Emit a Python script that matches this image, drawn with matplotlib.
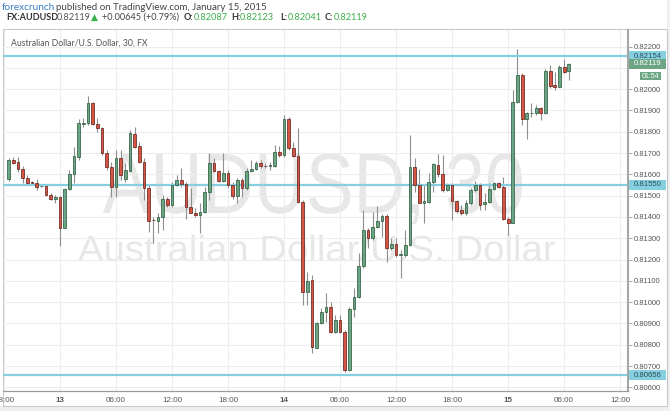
import numpy as np
import matplotlib
matplotlib.use("Agg")
import matplotlib.pyplot as plt
from matplotlib.patches import Rectangle, PathPatch
from matplotlib.textpath import TextPath
from matplotlib.font_manager import FontProperties
from matplotlib.transforms import Affine2D, blended_transform_factory, offset_copy

plt.rcParams['font.family'] = ['Liberation Sans', 'DejaVu Sans']

W, H = 670, 411

# AUDUSD 30 min bars, 18:30 Jan 12 .. 06:30 Jan 15 (2015)
bar_open = [
    0.81578, 0.81667, 0.81658, 0.81624, 0.81581, 0.81564, 0.81558, 0.81544, 0.81547, 0.81503,
    0.81483, 0.81495, 0.81350, 0.81530, 0.81600, 0.81683, 0.81838, 0.81840, 0.81934, 0.81836,
    0.81816, 0.81702, 0.81636, 0.81539, 0.81675, 0.81577, 0.81617, 0.81789, 0.81733, 0.81658,
    0.81534, 0.81386, 0.81382, 0.81398, 0.81483, 0.81455, 0.81550, 0.81573, 0.81553, 0.81445,
    0.81420, 0.81408, 0.81425, 0.81519, 0.81652, 0.81614, 0.81569, 0.81608, 0.81550, 0.81500,
    0.81572, 0.81534, 0.81616, 0.81624, 0.81652, 0.81641, 0.81638, 0.81639, 0.81704, 0.81691,
    0.81860, 0.81722, 0.81688, 0.81472, 0.81049, 0.81104, 0.80786, 0.80901, 0.80955, 0.80976,
    0.80858, 0.80915, 0.80861, 0.80681, 0.80968, 0.81026, 0.81171, 0.81339, 0.81303, 0.81351,
    0.81381, 0.81406, 0.81256, 0.81272, 0.81221, 0.81221, 0.81268, 0.81633, 0.81550, 0.81467,
    0.81472, 0.81563, 0.81642, 0.81600, 0.81526, 0.81550, 0.81473, 0.81431, 0.81417, 0.81464,
    0.81526, 0.81550, 0.81459, 0.81472, 0.81530, 0.81558, 0.81539, 0.81389, 0.81373, 0.81941,
    0.82066, 0.81858, 0.81887, 0.81887, 0.81910, 0.81889, 0.82087, 0.82019, 0.82011, 0.82102,
    0.82087,
]
bar_high = [
    0.81677, 0.81683, 0.81683, 0.81639, 0.81597, 0.81570, 0.81577, 0.81553, 0.81551, 0.81511,
    0.81503, 0.81498, 0.81537, 0.81620, 0.81730, 0.81858, 0.81863, 0.81968, 0.81941, 0.81863,
    0.81824, 0.81714, 0.81659, 0.81714, 0.81714, 0.81652, 0.81808, 0.81824, 0.81753, 0.81675,
    0.81550, 0.81401, 0.81417, 0.81503, 0.81495, 0.81565, 0.81597, 0.81628, 0.81565, 0.81534,
    0.81441, 0.81464, 0.81539, 0.81699, 0.81677, 0.81620, 0.81699, 0.81620, 0.81565, 0.81581,
    0.81581, 0.81628, 0.81667, 0.81663, 0.81667, 0.81652, 0.81659, 0.81738, 0.81734, 0.81879,
    0.81871, 0.81750, 0.81816, 0.81480, 0.81143, 0.81127, 0.80908, 0.80971, 0.81042, 0.81002,
    0.80940, 0.80940, 0.80869, 0.80979, 0.81065, 0.81229, 0.81433, 0.81347, 0.81422, 0.81453,
    0.81412, 0.81412, 0.81303, 0.81300, 0.81245, 0.81339, 0.81785, 0.81675, 0.81624, 0.81550,
    0.81605, 0.81652, 0.81696, 0.81691, 0.81558, 0.81558, 0.81480, 0.81456, 0.81480, 0.81534,
    0.81570, 0.81558, 0.81511, 0.81558, 0.81565, 0.81565, 0.81589, 0.81401, 0.81996, 0.82187,
    0.82074, 0.81894, 0.81934, 0.81926, 0.81918, 0.82093, 0.82113, 0.82082, 0.82113, 0.82140,
    0.82123,
]
bar_low = [
    0.81569, 0.81648, 0.81612, 0.81561, 0.81553, 0.81550, 0.81526, 0.81539, 0.81498, 0.81480,
    0.81464, 0.81264, 0.81347, 0.81526, 0.81558, 0.81667, 0.81824, 0.81832, 0.81832, 0.81800,
    0.81691, 0.81620, 0.81495, 0.81495, 0.81573, 0.81565, 0.81612, 0.81722, 0.81652, 0.81480,
    0.81331, 0.81276, 0.81323, 0.81339, 0.81448, 0.81448, 0.81545, 0.81542, 0.81389, 0.81417,
    0.81401, 0.81323, 0.81417, 0.81480, 0.81611, 0.81563, 0.81563, 0.81537, 0.81484, 0.81464,
    0.81495, 0.81526, 0.81612, 0.81619, 0.81628, 0.81628, 0.81620, 0.81636, 0.81683, 0.81683,
    0.81714, 0.81683, 0.81464, 0.80987, 0.80987, 0.80760, 0.80783, 0.80896, 0.80908, 0.80854,
    0.80854, 0.80854, 0.80672, 0.80677, 0.80932, 0.81018, 0.81159, 0.81253, 0.81292, 0.81347,
    0.81307, 0.81187, 0.81245, 0.81213, 0.81112, 0.81213, 0.81264, 0.81519, 0.81464, 0.81370,
    0.81467, 0.81519, 0.81589, 0.81519, 0.81523, 0.81386, 0.81417, 0.81409, 0.81409, 0.81456,
    0.81519, 0.81433, 0.81433, 0.81464, 0.81526, 0.81534, 0.81386, 0.81315, 0.81370, 0.81934,
    0.81832, 0.81765, 0.81871, 0.81879, 0.81855, 0.81883, 0.82004, 0.81996, 0.82011, 0.82074,
    0.82041,
]
bar_close = [
    0.81667, 0.81655, 0.81624, 0.81581, 0.81561, 0.81558, 0.81542, 0.81547, 0.81503, 0.81483,
    0.81495, 0.81350, 0.81531, 0.81600, 0.81686, 0.81840, 0.81840, 0.81934, 0.81836, 0.81816,
    0.81702, 0.81636, 0.81539, 0.81675, 0.81597, 0.81620, 0.81793, 0.81730, 0.81658, 0.81534,
    0.81382, 0.81384, 0.81398, 0.81483, 0.81455, 0.81550, 0.81573, 0.81553, 0.81445, 0.81420,
    0.81408, 0.81425, 0.81519, 0.81652, 0.81614, 0.81569, 0.81608, 0.81550, 0.81500, 0.81572,
    0.81534, 0.81616, 0.81624, 0.81652, 0.81639, 0.81638, 0.81644, 0.81704, 0.81691, 0.81860,
    0.81722, 0.81688, 0.81472, 0.81049, 0.81101, 0.80791, 0.80901, 0.80955, 0.80976, 0.80858,
    0.80915, 0.80858, 0.80681, 0.80968, 0.81026, 0.81171, 0.81339, 0.81303, 0.81351, 0.81381,
    0.81406, 0.81256, 0.81272, 0.81221, 0.81226, 0.81268, 0.81636, 0.81550, 0.81467, 0.81476,
    0.81565, 0.81647, 0.81600, 0.81526, 0.81550, 0.81473, 0.81428, 0.81417, 0.81464, 0.81526,
    0.81550, 0.81456, 0.81472, 0.81530, 0.81558, 0.81539, 0.81389, 0.81373, 0.81941, 0.82066,
    0.81858, 0.81887, 0.81889, 0.81910, 0.81889, 0.82087, 0.82015, 0.82011, 0.82102, 0.82082,
    0.82119,
]

# x axis: bar index, one step = 30 minutes, 0 = 18:00 Jan 12
time_ticks = [0, 12, 24, 36, 48, 60, 72, 84, 96, 108, 120, 132]
time_labels = ['18:00', '13', '06:00', '12:00', '18:00', '14',
               '06:00', '12:00', '18:00', '15', '06:00', '12:00']
price_ticks = [0.806, 0.807, 0.808, 0.809, 0.810, 0.811, 0.812, 0.813, 0.814,
               0.815, 0.816, 0.817, 0.818, 0.819, 0.820, 0.821, 0.822]
level_lines = [0.82154, 0.81550, 0.80656]
last_price = 0.82119
countdown = '01:54'

UP, UP_EDGE = '#6ba583', '#225437'
DOWN, DOWN_EDGE = '#d75442', '#5b1a13'
WICK = '#8f8f8f'
LEVEL = '#84d0e0'
GREEN_TXT = '#3aae49'


def fx(px):
    return px / W


def fy(py):
    return 1 - py / H


fig = plt.figure(figsize=(W / 100, H / 100), dpi=100, facecolor='#eef0f4')
fig.patches.append(Rectangle((0, fy(406)), fx(667), 1 - fy(406), transform=fig.transFigure,
                             facecolor='white', edgecolor='none', zorder=-10))
fig.patches.append(Rectangle((fx(3), fy(406)), fx(664), fy(29) - fy(406), transform=fig.transFigure,
                             facecolor='none', edgecolor='#c9c9c9', lw=0.8, zorder=-9))

ax = fig.add_axes([fx(3), fy(391), fx(628) - fx(3), fy(30) - fy(391)])
ax.set_facecolor('none')

x = np.arange(1, len(bar_open) + 1)
o = np.array(bar_open)
h = np.array(bar_high)
l = np.array(bar_low)
c = np.array(bar_close)
up = c >= o

ax.vlines(x, l, h, color=WICK, lw=0.8, zorder=2)
body_lo = np.minimum(o, c)
body_h = np.maximum(np.abs(c - o), 0.00002)
ax.bar(x[up], body_h[up], bottom=body_lo[up], width=0.62, color=UP,
       edgecolor=UP_EDGE, lw=0.5, zorder=3)
ax.bar(x[~up], body_h[~up], bottom=body_lo[~up], width=0.62, color=DOWN,
       edgecolor=DOWN_EDGE, lw=0.5, zorder=3)

for v in level_lines:
    ax.axhline(v, color=LEVEL, lw=1.6, zorder=2.5)

ax.set_xlim(-0.214, 133.7)
ax.set_ylim(0.805828, 0.8227765)

ax.set_xticks(time_ticks)
ax.set_xticklabels(time_labels)
for lbl in ax.get_xticklabels():
    if len(lbl.get_text()) == 2:
        lbl.set_fontweight('bold')
        lbl.set_color('#333333')
ax.tick_params(axis='x', length=0, labelsize=5.8, labelcolor='#555555', pad=4)

# the 0.82100 label sits under the last-price tag, so it is left blank
ax.yaxis.tick_right()
ax.set_yticks(price_ticks)
ax.set_yticklabels(['' if abs(v - 0.821) < 1e-9 else '%.5f' % v for v in price_ticks])
ax.tick_params(axis='y', length=3, width=0.6, color='#999999', labelsize=5.5,
               labelcolor='#555555', pad=1.5)

ax.grid(True, color='#ededed', lw=0.8)
ax.set_axisbelow(True)
for side in ['top', 'left']:
    ax.spines[side].set_visible(False)
ax.spines['right'].set_color('#a6a6a6')
ax.spines['right'].set_linewidth(1.5)
ax.spines['bottom'].set_color('#9a9a9a')
ax.spines['bottom'].set_linewidth(0.9)


# faint symbol watermark
def watermark(s, x0, x1, base, cap):
    fp = FontProperties(family='Liberation Sans')
    tp = TextPath((0, 0), s, size=1, prop=fp)
    ext = tp.get_extents()
    cap1 = TextPath((0, 0), 'H', size=1, prop=fp).get_extents().y1
    sx = (x1 - x0) / (ext.x1 - ext.x0)
    sy = cap / cap1
    tr = Affine2D().translate(-ext.x0, 0).scale(sx, sy).translate(x0, H - base)
    ax.add_artist(PathPatch(tp, transform=tr, facecolor='#e7e7e7', edgecolor='none', zorder=0.3))


watermark('AUDUSD, 30', 103, 522, 213, 59)
watermark('Australian Dollar/U.S. Dollar', 78, 555, 261, 25)

# price tags on the right scale
blend = blended_transform_factory(ax.transAxes, ax.transData)
px_per_unit = 361 / (0.8227765 - 0.805828)


def ax_frac(px):
    return (px - 3) / 625


def price_tag(value, text, face, tc, x0=629, x1=666, dy=0, hgt=10, size=5.6):
    trans = offset_copy(blend, fig=fig, y=dy, units='dots')
    ax.add_artist(Rectangle((ax_frac(x0), value - hgt / 2 / px_per_unit), ax_frac(x1) - ax_frac(x0),
                            hgt / px_per_unit, transform=trans, facecolor=face, edgecolor='none',
                            clip_on=False, zorder=5))
    ax.text(ax_frac((x0 + x1) / 2), value, text, transform=trans, ha='center', va='center',
            fontsize=size, color=tc, clip_on=False, zorder=6)


for v in level_lines:
    price_tag(v, '%.5f' % v, LEVEL, '#2f4f57')
price_tag(last_price, '%.5f' % last_price, UP, 'white')
price_tag(last_price, countdown, UP, 'white', x0=640, x1=661, dy=-12.5, hgt=8, size=5.0)

# header
hdr = ['Lato', 'DejaVu Sans']
fig.text(fx(2), fy(7), 'forexcrunch', color='#3b7fc4', fontsize=7.2,
         family=hdr, va='center')
fig.text(fx(56), fy(7), 'published on TradingView.com, January 15, 2015', color='#444444',
         fontsize=7, family=hdr, va='center')
line2 = [
    (6, 'FX:AUDUSD', '#333333', 'bold'),
    (57, '0.82119', '#555555', 'normal'),
    (91, '\u25b2', GREEN_TXT, 'normal'),
    (102, '+0.00645 (+0.79%)', '#444444', 'normal'),
    (184, 'O:', '#333333', 'bold'),
    (194, '0.82087', GREEN_TXT, 'normal'),
    (231, 'H:', '#333333', 'bold'),
    (240, '0.82123', GREEN_TXT, 'normal'),
    (280, 'L:', '#333333', 'bold'),
    (288, '0.82041', GREEN_TXT, 'normal'),
    (325, 'C:', '#333333', 'bold'),
    (334, '0.82119', GREEN_TXT, 'normal'),
]
for px, s, col, wt in line2:
    fig.text(fx(px), fy(17.5), s, color=col, fontsize=6.6, fontweight=wt, family=hdr, va='center')

fig.text(fx(11), fy(43), 'Australian Dollar/U.S. Dollar, 30, FX', color='#555555',
         fontsize=6.2, family=hdr, va='center')

fig.savefig('out.png', dpi=100, facecolor=fig.get_facecolor())
